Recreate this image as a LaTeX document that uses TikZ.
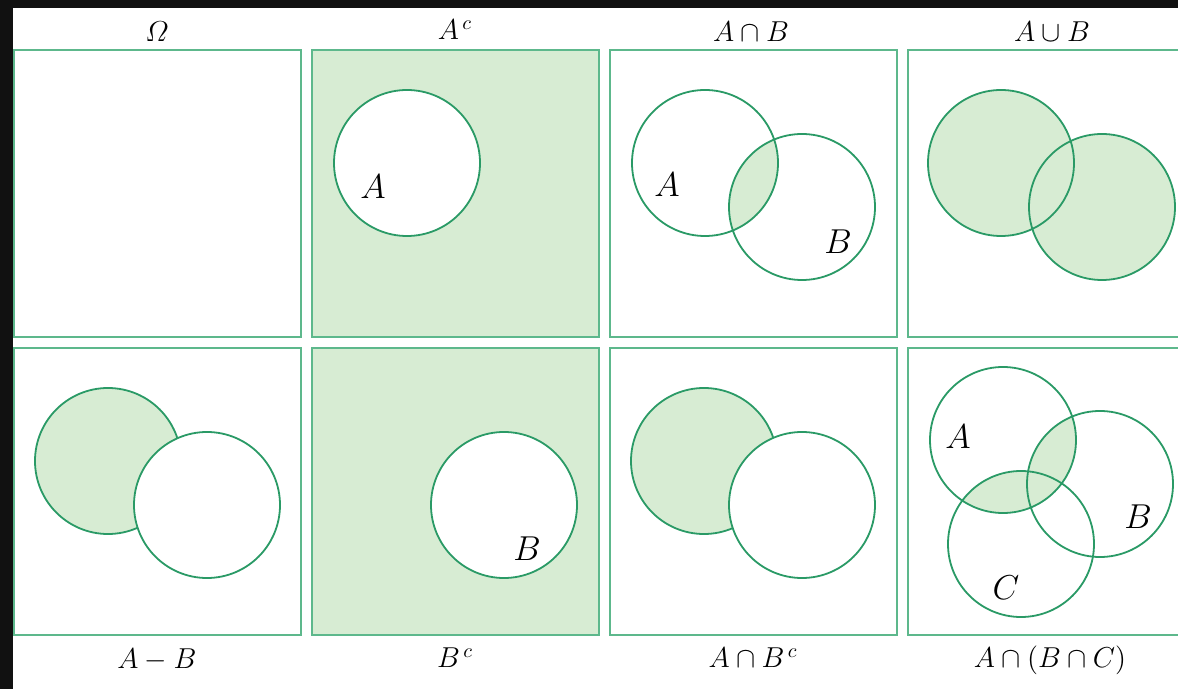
\documentclass[tikz,border=0pt]{standalone}
\usepackage{amsmath}
\definecolor{circ}{HTML}{2A9A66}
\definecolor{boxc}{HTML}{5DB88C}
\definecolor{fillg}{HTML}{D7ECD3}
\definecolor{bgk}{HTML}{111111}
\begin{document}
\begin{tikzpicture}[x=0.5pt,y=-0.5pt,
  panel/.style={draw=boxc,line width=1pt},
  ring/.style={draw=circ,line width=0.9pt},
  title/.style={font=\fontsize{14.5}{17}\selectfont,inner sep=0pt},
  lab/.style={font=\fontsize{17}{20}\selectfont,inner sep=0pt}]
\useasboundingbox (0,0) rectangle (1178,689);
\clip (0,0) rectangle (1178,689);
\fill[bgk] (0,0) rectangle (1178,689);
\fill[white] (13,8) rectangle (1178,689);
\def\R{73}
% ---- Panel 1: Omega
\draw[panel] (14,50) rectangle ++(287,287);
\node[title] (t1) at (157,32) {$\varOmega$};
% ---- Panel 2: A^c
\fill[fillg] (312,50) rectangle ++(287,287);
\draw[panel] (312,50) rectangle ++(287,287);
\filldraw[fill=white,ring] (407,163) circle (\R);
\node[lab] (a2) at (373,187) {$A$};
\node[title] (t2) at (455,30) {$A^{\,c}$};
% ---- Panel 3: A cap B
\draw[panel] (610,50) rectangle ++(287,287);
\begin{scope}
  \clip (705,163) circle (\R);
  \fill[fillg] (802,207) circle (\R);
\end{scope}
\draw[ring] (705,163) circle (\R);
\draw[ring] (802,207) circle (\R);
\node[lab] (a3) at (667,185) {$A$};
\node[lab] (b3) at (838,242) {$B$};
\node[title] (t3) at (751,32) {$A\cap B$};
% ---- Panel 4: A cup B
\draw[panel] (908,50) rectangle ++(287,287);
\fill[fillg] (1001,163) circle (\R);
\fill[fillg] (1102,207) circle (\R);
\draw[ring] (1001,163) circle (\R);
\draw[ring] (1102,207) circle (\R);
\node[title] (t4) at (1052,32) {$A\cup B$};
% ---- Panel 5: A - B
\draw[panel] (14,348) rectangle ++(287,287);
\filldraw[fill=fillg,ring] (108,461) circle (\R);
\filldraw[fill=white,ring] (207,505) circle (\R);
\node[title] (t5) at (157,660) {$A-B$};
% ---- Panel 6: B^c
\fill[fillg] (312,348) rectangle ++(287,287);
\draw[panel] (312,348) rectangle ++(287,287);
\filldraw[fill=white,ring] (504,505) circle (\R);
\node[lab] (b6) at (527,549) {$B$};
\node[title] (t6) at (455,658) {$B^{\,c}$};
% ---- Panel 7: A cap B^c
\draw[panel] (610,348) rectangle ++(287,287);
\filldraw[fill=fillg,ring] (704,461) circle (\R);
\filldraw[fill=white,ring] (802,505) circle (\R);
\node[title] (t7) at (753,658) {$A\cap B^{\,c}$};
% ---- Panel 8: A cap (B cap C)
\draw[panel] (908,348) rectangle ++(287,287);
\begin{scope}
  \clip (1003,440) circle (\R);
  \fill[fillg] (1100,484) circle (\R);
  \fill[fillg] (1021,544) circle (\R);
\end{scope}
\draw[ring] (1003,440) circle (\R);
\draw[ring] (1100,484) circle (\R);
\draw[ring] (1021,544) circle (\R);
\node[lab] (a8) at (958,437) {$A$};
\node[lab] (b8) at (1138,517) {$B$};
\node[lab] (c8) at (1006,588) {$C$};
\node[title] (t8) at (1050,660) {$A\cap(B\cap C)$};
\end{tikzpicture}
\end{document}
